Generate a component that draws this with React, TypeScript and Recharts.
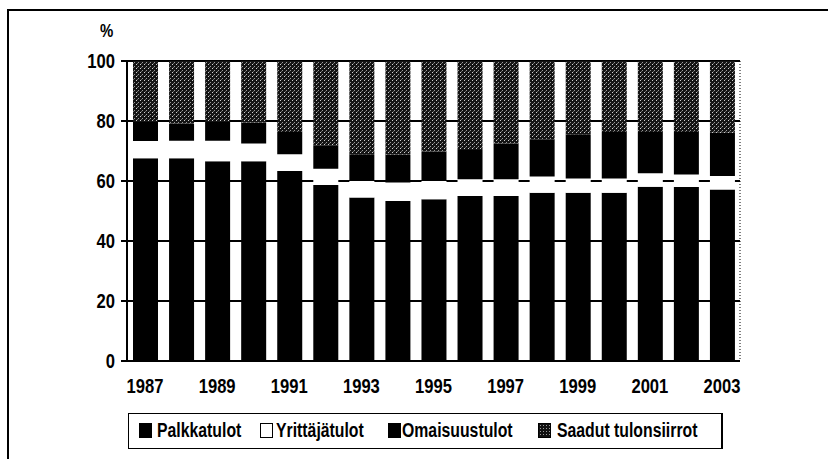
import { BarChart, Bar, XAxis, YAxis, CartesianGrid } from "recharts"

const years = [
  "1987", "1988", "1989", "1990", "1991", "1992", "1993", "1994", "1995",
  "1996", "1997", "1998", "1999", "2000", "2001", "2002", "2003",
]
const palkkatulot = [67.6, 67.6, 66.6, 66.6, 63.3, 58.7, 54.5, 53.3, 53.9, 55.0, 55.0, 56.1, 56.1, 56.1, 58.1, 58.0, 57.2]
const yrittajatulot = [5.7, 5.8, 6.8, 5.9, 5.6, 5.4, 5.5, 6.2, 6.1, 5.6, 5.6, 5.4, 4.7, 4.7, 4.5, 4.2, 4.5]
const omaisuustulot = [6.4, 5.8, 6.3, 7.0, 7.4, 7.8, 8.9, 9.3, 9.8, 9.7, 11.9, 12.4, 14.8, 15.5, 13.7, 14.1, 14.4]
const tulonsiirrot = [20.3, 20.8, 20.3, 20.5, 23.7, 28.1, 31.1, 31.2, 30.3, 29.7, 27.5, 26.1, 24.4, 23.7, 23.7, 23.7, 23.9]
const yTicks = [0, 20, 40, 60, 80, 100]
const boundaryTicks = [0, 1, 2, 3, 4, 5, 6, 7, 8, 9, 10, 11, 12, 13, 14, 15, 16, 17]

const data = years.map((year, i) => ({
  year,
  pos: i + 0.5,
  palkka: palkkatulot[i],
  yrittaja: yrittajatulot[i],
  omaisuus: omaisuustulot[i],
  siirrot: tulonsiirrot[i],
}))

const FONT = "'Liberation Sans', Arial, sans-serif"
const TICK_SQUEEZE = 0.83
const LEGEND_SQUEEZE = 0.79

const speckleBg =
  "radial-gradient(#9a9a9a 0.6px, transparent 0.9px) 0 0 / 3px 3px, #111"

const legendItems = [
  { label: "Palkkatulot", left: 10, textLeft: 28, fill: "#000" },
  { label: "Yrittäjätulot", left: 131, textLeft: 147, fill: "#fff" },
  { label: "Omaisuustulot", left: 259, textLeft: 273, fill: "#000" },
  { label: "Saadut tulonsiirrot", left: 409, textLeft: 428, fill: speckleBg },
]

function XTick({ x, y, payload }: any) {
  return (
    <g transform={`translate(${x},${y})`}>
      <text
        transform={`scale(${TICK_SQUEEZE},1)`}
        textAnchor="middle"
        y={24}
        fill="#000"
        fontFamily={FONT}
        fontWeight="bold"
        fontSize={20}
      >
        {payload.value}
      </text>
    </g>
  )
}

function YTick({ x, y, payload }: any) {
  return (
    <g transform={`translate(${x},${y})`}>
      <text
        transform={`scale(${TICK_SQUEEZE},1)`}
        textAnchor="end"
        y={7}
        fill="#000"
        fontFamily={FONT}
        fontWeight="bold"
        fontSize={20}
      >
        {payload.value}
      </text>
    </g>
  )
}

function LegendBox() {
  return (
    <div
      style={{
        position: "absolute",
        left: 128,
        top: 413,
        width: 595,
        height: 36,
        boxSizing: "border-box",
        border: "1px solid #000",
        borderRightWidth: 2,
        fontFamily: FONT,
        fontWeight: "bold",
        fontSize: 20,
        color: "#000",
      }}
    >
      {legendItems.map((item) => (
        <div key={item.label}>
          <span
            style={{
              position: "absolute",
              left: item.left,
              top: 9,
              width: 13,
              height: 15,
              boxSizing: "border-box",
              border: "1.5px solid #000",
              background: item.fill,
            }}
          />
          <span
            style={{
              position: "absolute",
              left: item.textLeft,
              top: 5,
              lineHeight: "23px",
              whiteSpace: "nowrap",
              transform: `scaleX(${LEGEND_SQUEEZE})`,
              transformOrigin: "left center",
            }}
          >
            {item.label}
          </span>
        </div>
      ))}
    </div>
  )
}

export default function App() {
  return (
    <div
      style={{
        position: "absolute",
        left: 0,
        top: 0,
        width: 828,
        height: 459,
        background: "#fff",
        overflow: "hidden",
      }}
    >
      <div
        style={{
          position: "absolute",
          left: 7,
          top: 9,
          width: 830,
          height: 460,
          borderTop: "2px solid #000",
          borderLeft: "2px solid #000",
        }}
      />
      <div
        style={{
          position: "absolute",
          left: 100,
          top: 21,
          fontFamily: FONT,
          fontWeight: "bold",
          fontSize: 18,
          transform: `scaleX(${TICK_SQUEEZE})`,
          transformOrigin: "left center",
        }}
      >
        %
      </div>
      <BarChart
        width={828}
        height={459}
        data={data}
        margin={{ top: 61, right: 87, bottom: 0, left: 0 }}
        barSize={25}
        style={{ position: "absolute", left: 0, top: 0 }}
      >
        <defs>
          <pattern id="speckle" width="4" height="4" patternUnits="userSpaceOnUse">
            <rect width="4" height="4" fill="#141414" />
            <rect x="0" y="0" width="1" height="1" fill="#d0d0d0" />
            <rect x="2" y="2" width="1" height="1" fill="#9a9a9a" />
            <rect x="1" y="3" width="1" height="1" fill="#6a6a6a" />
          </pattern>
        </defs>
        <CartesianGrid vertical={false} stroke="#000" strokeWidth={2} />
        <XAxis
          xAxisId="edges"
          type="number"
          dataKey="pos"
          domain={[0, 17]}
          ticks={boundaryTicks}
          tickSize={4}
          tickLine={{ stroke: "#000" }}
          axisLine={false}
          tick={false}
          height={0}
        />
        <XAxis
          dataKey="year"
          interval={1}
          tickLine={false}
          axisLine={{ stroke: "#000", strokeWidth: 2 }}
          tick={<XTick />}
          height={98}
        />
        <YAxis
          domain={[0, 100]}
          ticks={yTicks}
          width={127}
          tickSize={6}
          tickMargin={6}
          tickLine={{ stroke: "#000", strokeWidth: 2 }}
          axisLine={{ stroke: "#000", strokeWidth: 2 }}
          tick={<YTick />}
          allowDataOverflow
        />
        <YAxis
          yAxisId="right"
          orientation="right"
          domain={[0, 100]}
          width={1}
          tick={false}
          tickLine={false}
          axisLine={{ stroke: "#000", strokeDasharray: "1 2" }}
        />
        <Bar dataKey="palkka" name="Palkkatulot" stackId="a" fill="#000" isAnimationActive={false} />
        <Bar dataKey="yrittaja" name="Yrittäjätulot" stackId="a" fill="#fff" isAnimationActive={false} />
        <Bar dataKey="omaisuus" name="Omaisuustulot" stackId="a" fill="#000" isAnimationActive={false} />
        <Bar dataKey="siirrot" name="Saadut tulonsiirrot" stackId="a" fill="url(#speckle)" isAnimationActive={false} />
      </BarChart>
      <LegendBox />
    </div>
  )
}
